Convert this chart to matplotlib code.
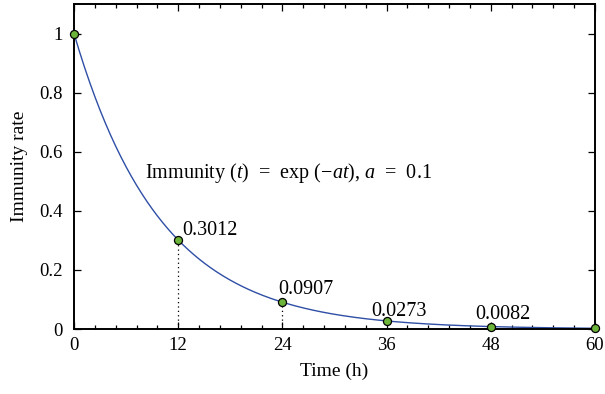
import numpy as np
import matplotlib.pyplot as plt
from matplotlib.ticker import MultipleLocator

plt.rcParams['font.family'] = 'Liberation Serif'
plt.rcParams['mathtext.fontset'] = 'custom'
plt.rcParams['mathtext.rm'] = 'Liberation Serif'
plt.rcParams['mathtext.it'] = 'Liberation Serif:italic'

# decay constant and the sampled immunity values
a = 0.1
times = [0, 12, 24, 36, 48, 60]
rates = [1.0, 0.3012, 0.0907, 0.0273, 0.0082, 0.0025]
labels = ['', '0.3012', '0.0907', '0.0273', '0.0082', '']

t = np.linspace(0, 60, 400)
curve = np.exp(-a*t)

fig = plt.figure(figsize=(6.05, 3.94), dpi=100)
ax = fig.add_axes([74/605, 65/394, 521/605, 325/394])

ax.plot(t, curve, color='#2f4fa6', lw=1.0)

# dotted drop lines under the sampled points
for x, y in zip(times[1:5], rates[1:5]):
    ax.plot([x, x], [0, y], color='black', ls=(0, (1, 2.5)), lw=0.9)

ax.plot(times, rates, 'o', ms=5.8, mfc='#6cb43a', mec='black', mew=0.9,
        clip_on=False, zorder=5)

offs = [(0, 0), (3, 0), (-3, 2), (-11, 0), (-11, 2), (0, 0)]
for x, y, s, o in zip(times, rates, labels, offs):
    if s:
        ax.annotate(s, (x, y), xytext=o, textcoords='offset points',
                    ha='left', va='bottom', fontsize=14.5)

ax.text(8.2, 0.51, r'Immunity ($t$)  =  exp ($-at$), $a$  =  0.1',
        fontsize=14.5, ha='left', va='baseline')

ax.set_xlim(0, 60)
ax.set_ylim(0, 1.1)
ax.set_xticks(times)
ax.set_yticks([0, 0.2, 0.4, 0.6, 0.8, 1])
ax.set_yticklabels(['0', '0.2', '0.4', '0.6', '0.8', '1'])
ax.xaxis.set_minor_locator(MultipleLocator(2.4))
ax.tick_params(which='both', direction='in', top=True, right=True,
               labelsize=13.5, width=0.9)
ax.tick_params(which='major', length=5)
ax.tick_params(which='minor', length=3)
ax.tick_params(axis='x', pad=6)
ax.tick_params(axis='y', pad=8)
for sp in ax.spines.values():
    sp.set_linewidth(1.4)

ax.set_xlabel('Time (h)', fontsize=14, labelpad=6)
ax.set_ylabel('Immunity rate', fontsize=14, labelpad=8)

fig.savefig('out.png', dpi=100)
